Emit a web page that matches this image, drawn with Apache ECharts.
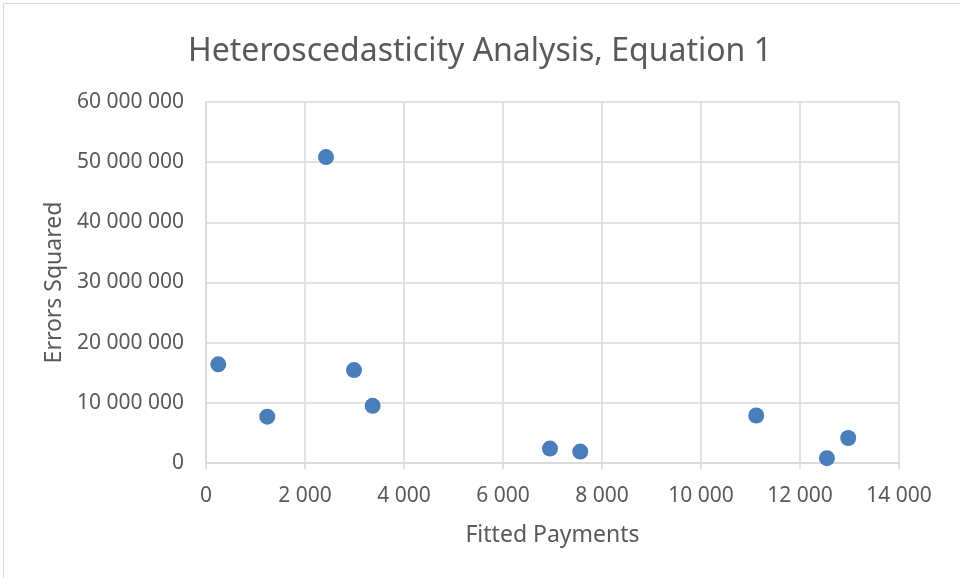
<!DOCTYPE html>
<html><head><meta charset="utf-8">
<script src="https://cdn.jsdelivr.net/npm/echarts@6/dist/echarts.min.js"></script>
<style>html,body{margin:0;padding:0;background:#fff}#c{width:960px;height:578px}</style>
</head><body><div id="c"></div>
<script>
var titleText = "Heteroscedasticity Analysis, Equation 1";
var xName = "Fitted Payments";
var yName = "Errors Squared";
var fittedPayments = [248, 1238, 2424, 2990, 3367, 6949, 7561, 11116, 12544, 12974];
var errorsSquared = [16400000, 7700000, 50850000, 15450000, 9500000, 2400000, 1900000, 7900000, 800000, 4150000];

function fmt(v){ return String(Math.round(v)).replace(/\B(?=(\d{3})+(?!\d))/g, " "); }
var data = fittedPayments.map(function(x,i){ return [x, errorsSquared[i]]; });
var font = "Noto Sans";
var chart = echarts.init(document.getElementById('c'));
chart.setOption({
  animation:false,
  title:{text:titleText, left:'center', top:31, textStyle:{fontFamily:font, fontSize:32, fontWeight:'normal', color:'#595959'}},
  grid:{left:206, right:61, top:102, bottom:115},
  graphic:[{type:'rect', shape:{x:3.5,y:3.5,width:965,height:580}, style:{fill:'none', stroke:'#d9d9d9', lineWidth:1}}],
  xAxis:{type:'value', min:0, max:14000, interval:2000, name:xName, nameLocation:'middle', nameGap:61,
    nameTextStyle:{fontFamily:font, fontSize:23, color:'#595959'},
    axisLine:{show:true, lineStyle:{color:'#d9d9d9', width:1.5}},
    axisTick:{show:true, length:6, lineStyle:{color:'#d9d9d9', width:1.5}},
    axisLabel:{fontFamily:font, fontSize:21, color:'#595959', margin:23, formatter:fmt},
    splitLine:{show:true, lineStyle:{color:'#d9d9d9', width:1.5}}},
  yAxis:{type:'value', min:0, max:60000000, interval:10000000, name:yName, nameLocation:'middle', nameGap:139,
    nameTextStyle:{fontFamily:font, fontSize:23, color:'#595959'},
    axisLine:{show:true, lineStyle:{color:'#d9d9d9', width:1.5}},
    axisTick:{show:false},
    axisLabel:{fontFamily:font, fontSize:21, color:'#595959', margin:22, formatter:fmt},
    splitLine:{show:true, lineStyle:{color:'#d9d9d9', width:1.5}}},
  series:[{type:'scatter', data:data, symbolSize:16, itemStyle:{color:'#4a7ebb', opacity:1}}]
});
</script></body></html>
